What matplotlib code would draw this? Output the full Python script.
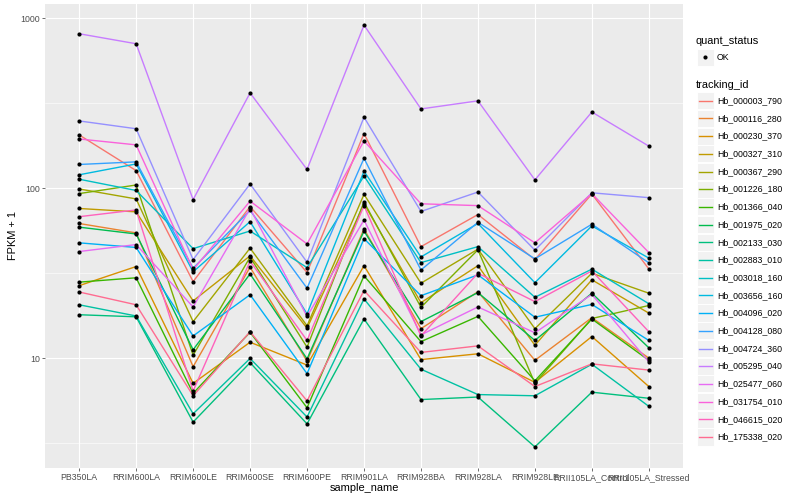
import numpy as np
import matplotlib.pyplot as plt
from matplotlib.patches import Rectangle
from matplotlib.ticker import FixedLocator, NullFormatter

plt.rcParams['font.family'] = ['Liberation Sans', 'DejaVu Sans']

samples = ['PB350LA', 'RRIM600LA', 'RRIM600LE', 'RRIM600SE', 'RRIM600PE',
           'RRIM901LA', 'RRIM928BA', 'RRIM928LA', 'RRIM928LE',
           'RRII105LA_Control', 'RRII105LA_Stressed']

tracking_ids = ['Hb_000003_790', 'Hb_000116_280', 'Hb_000230_370', 'Hb_000327_310',
                'Hb_000367_290', 'Hb_001226_180', 'Hb_001366_040', 'Hb_001975_020',
                'Hb_002133_030', 'Hb_002883_010', 'Hb_003018_160', 'Hb_003656_160',
                'Hb_004096_020', 'Hb_004128_080', 'Hb_004724_360', 'Hb_005295_040',
                'Hb_025477_060', 'Hb_031754_010', 'Hb_046615_020', 'Hb_175338_020']

# ggplot default hue palette for 20 levels
hue_colors = ['#F8766D', '#EA8331', '#D89000', '#C09B00', '#A3A500', '#7CAE00',
              '#39B600', '#00BB4E', '#00BF7D', '#00C1A3', '#00BFC4', '#00BAE0',
              '#00B0F6', '#35A2FF', '#9590FF', '#C77CFF', '#E76BF3', '#FA62DB',
              '#FF62BC', '#FF6C91']

# FPKM + 1, one list per gene, in sample order
hb_000003_790 = [206, 127, 28.2, 78, 31.9, 210, 45.3, 70, 38, 92.5, 33.5]
hb_000116_280 = [62, 54.6, 8.9, 34.3, 9.6, 57.6, 14.9, 24.6, 9.7, 17.3, 10]
hb_000230_370 = [26.7, 34.6, 7.1, 12.4, 9.1, 35, 9.8, 10.6, 7.2, 13.4, 6.8]
hb_000327_310 = [76, 72.6, 21.7, 40, 15, 81, 21.2, 35, 11.9, 28.9, 18.4]
hb_000367_290 = [99, 86.5, 16.4, 44.4, 15.5, 92, 27.6, 43.8, 14.9, 31.6, 24.1]
hb_001226_180 = [93, 104.5, 10.4, 39.3, 11.6, 83, 19.9, 43.4, 7.1, 17.1, 20.4]
hb_001366_040 = [28, 29.7, 6.2, 14.2, 5.1, 30.5, 12.5, 17.6, 7.35, 17.0, 9.7]
hb_001975_020 = [59, 53.8, 11.2, 31.3, 9.9, 56, 16.4, 24.3, 12.7, 24.1, 11.5]
hb_002133_030 = [18, 17.5, 4.2, 9.4, 4.1, 17, 5.7, 5.9, 3.0, 6.3, 5.8]
hb_002883_010 = [20.6, 17.7, 4.7, 9.95, 4.5, 22.3, 8.6, 6.1, 6.0, 9.2, 5.2]
hb_003018_160 = [113, 97, 44.1, 56, 34.1, 118, 36.5, 45.3, 22.8, 33.4, 20.9]
hb_003656_160 = [120, 139, 32.2, 63.6, 18.2, 126, 39.4, 62, 27.8, 60, 38.8]
hb_004096_020 = [47.7, 44.8, 13.5, 23.6, 8.1, 50.5, 23.3, 30.9, 17.4, 20.7, 12.7]
hb_004128_080 = [138, 143, 33.8, 74, 25.8, 150, 33, 63, 38.4, 61.4, 36.4]
hb_004724_360 = [249, 224, 38, 106, 36.7, 262, 73, 95, 43.2, 94, 88]
hb_005295_040 = [812, 709, 85.7, 364, 129, 913, 293, 327, 112, 281, 177]
hb_025477_060 = [42.4, 46.6, 20, 76, 17.6, 65, 13.7, 20, 14.1, 23.7, 9.5]
hb_031754_010 = [195, 180, 33.1, 84, 47, 190, 81, 79, 47.7, 93, 41.8]
hb_046615_020 = [68, 74.5, 6.4, 37.2, 12.7, 79, 13.5, 31.6, 21.5, 32.6, 14.3]
hb_175338_020 = [24.5, 20.6, 6.0, 14.3, 5.6, 25, 10.8, 11.8, 6.8, 9.25, 8.5]

series = [hb_000003_790, hb_000116_280, hb_000230_370, hb_000327_310, hb_000367_290,
          hb_001226_180, hb_001366_040, hb_001975_020, hb_002133_030, hb_002883_010,
          hb_003018_160, hb_003656_160, hb_004096_020, hb_004128_080, hb_004724_360,
          hb_005295_040, hb_025477_060, hb_031754_010, hb_046615_020, hb_175338_020]

fig = plt.figure(figsize=(8, 5), dpi=100)
ax = fig.add_axes([45 / 800, 1 - 468 / 500, 638 / 800, 464 / 500])
ax.set_facecolor('#EBEBEB')

x = np.arange(len(samples))
for vals, col in zip(series, hue_colors):
    ax.plot(x, vals, color=col, lw=1.0, zorder=3)
for vals in series:
    ax.plot(x, vals, 'o', color='black', ms=3.0, mew=0, zorder=4)

# log scale with ggplot-like 5% expansion
ax.set_yscale('log')
allv = np.log10(np.concatenate([np.array(s, float) for s in series]))
lo, hi = allv.min(), allv.max()
pad = 0.05 * (hi - lo)
ax.set_ylim(10 ** (lo - pad), 10 ** (hi + pad))
ax.set_xlim(-0.6, len(samples) - 0.4)

ax.yaxis.set_major_locator(FixedLocator([10, 100, 1000]))
ax.set_yticklabels(['10', '100', '1000'])
ax.yaxis.set_minor_locator(FixedLocator([10 ** 0.5, 10 ** 1.5, 10 ** 2.5]))
ax.yaxis.set_minor_formatter(NullFormatter())
ax.set_xticks(x)
ax.set_xticklabels(samples)

ax.grid(which='major', color='white', lw=0.8)
ax.grid(which='minor', axis='y', color='white', lw=0.4)
ax.set_axisbelow(True)
for s in ax.spines.values():
    s.set_visible(False)
ax.tick_params(which='major', length=2.0, width=0.5, color='#333333',
               labelsize=6.3, labelcolor='#4D4D4D', pad=1.5)
ax.tick_params(which='minor', length=0)

ax.set_xlabel('sample_name', fontsize=7.9, labelpad=1)
ax.set_ylabel('FPKM + 1', fontsize=7.9, labelpad=2)

# legends, drawn in pixel space on an overlay
lg = fig.add_axes([0, 0, 1, 1])
lg.set_xlim(0, 800)
lg.set_ylim(500, 0)
lg.axis('off')

lg.text(696, 41, 'quant_status', fontsize=7.9, va='center', ha='left')
lg.add_patch(Rectangle((696.5, 48.5), 17, 17, facecolor='#F2F2F2', edgecolor='white', lw=0.7))
lg.plot([705], [57], 'o', color='black', ms=3.0, mew=0)
lg.text(717, 57, 'OK', fontsize=6.3, va='center', ha='left')

lg.text(696, 85, 'tracking_id', fontsize=7.9, va='center', ha='left')
for i, (tid, col) in enumerate(zip(tracking_ids, hue_colors)):
    yc = 100.7 + i * 17.7
    lg.add_patch(Rectangle((696.5, yc - 8.6), 17, 17.2, facecolor='#F2F2F2',
                           edgecolor='white', lw=0.7))
    lg.plot([698.5, 711.5], [yc, yc], color=col, lw=1.0)
    lg.text(717, yc, tid, fontsize=6.3, va='center', ha='left')

fig.savefig('out.png', dpi=100)
